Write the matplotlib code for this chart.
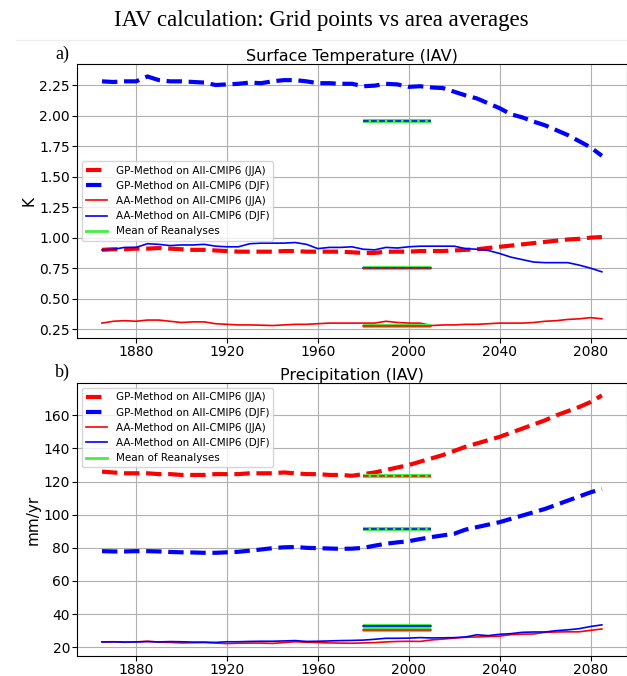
import matplotlib
matplotlib.use("Agg")
import matplotlib.pyplot as plt
from matplotlib.lines import Line2D

# x positions (centre years)
years = [1865, 1870, 1875, 1880, 1885, 1890, 1895, 1900, 1905, 1910,
         1915, 1920, 1925, 1930, 1935, 1940, 1945, 1950, 1955, 1960,
         1965, 1970, 1975, 1980, 1985, 1990, 1995, 2000, 2005, 2010,
         2015, 2020, 2025, 2030, 2035, 2040, 2045, 2050, 2055, 2060,
         2065, 2070, 2075, 2080, 2085]

# a) Surface temperature IAV (K)
tas_gp_jja = [0.90, 0.905, 0.905, 0.91, 0.91, 0.915, 0.91, 0.905, 0.90, 0.90,
              0.895, 0.89, 0.885, 0.885, 0.885, 0.885, 0.89, 0.89, 0.885, 0.885,
              0.885, 0.885, 0.88, 0.875, 0.875, 0.885, 0.885, 0.885, 0.89, 0.89,
              0.89, 0.895, 0.90, 0.905, 0.915, 0.925, 0.935, 0.945, 0.955, 0.965,
              0.975, 0.985, 0.99, 1.00, 1.005]
tas_gp_djf = [2.28, 2.275, 2.28, 2.28, 2.32, 2.29, 2.28, 2.28, 2.275, 2.27,
              2.25, 2.255, 2.26, 2.27, 2.265, 2.28, 2.29, 2.29, 2.28, 2.265,
              2.265, 2.26, 2.26, 2.24, 2.245, 2.26, 2.255, 2.235, 2.24, 2.23,
              2.225, 2.195, 2.165, 2.14, 2.10, 2.06, 2.01, 1.985, 1.95, 1.92,
              1.88, 1.84, 1.79, 1.74, 1.67]
tas_aa_jja = [0.30, 0.315, 0.32, 0.315, 0.325, 0.325, 0.315, 0.305, 0.31, 0.31,
              0.295, 0.29, 0.285, 0.285, 0.283, 0.28, 0.285, 0.29, 0.29, 0.295,
              0.30, 0.30, 0.30, 0.30, 0.30, 0.315, 0.305, 0.30, 0.30, 0.28,
              0.285, 0.285, 0.29, 0.29, 0.295, 0.30, 0.30, 0.30, 0.305, 0.315,
              0.32, 0.33, 0.335, 0.345, 0.335]
tas_aa_djf = [0.90, 0.905, 0.92, 0.92, 0.95, 0.945, 0.935, 0.94, 0.94, 0.945,
              0.93, 0.925, 0.925, 0.95, 0.955, 0.955, 0.955, 0.96, 0.945, 0.91,
              0.92, 0.92, 0.925, 0.905, 0.90, 0.92, 0.915, 0.925, 0.93, 0.93,
              0.93, 0.93, 0.91, 0.905, 0.895, 0.87, 0.84, 0.82, 0.80, 0.795,
              0.795, 0.795, 0.775, 0.75, 0.72]

# b) Precipitation IAV (mm/yr)
pr_gp_jja = [126, 125.5, 125, 125, 125, 124.5, 124.5, 124, 124, 124,
             124.5, 124.5, 124.5, 125, 125, 125, 125.5, 125, 124.5, 124.5,
             124, 124, 123.5, 124.5, 125.5, 127, 128.5, 130, 132, 134,
             136, 138.5, 141, 143, 145, 147, 149.5, 152, 154.5, 157,
             160, 162.5, 165, 168, 172]
pr_gp_djf = [78, 77.8, 77.8, 78, 78, 77.8, 77.5, 77.3, 77.2, 77,
             77, 77.3, 77.6, 78.3, 79, 79.8, 80.3, 80.5, 80, 79.8,
             79.6, 79.4, 79.5, 80, 81.3, 82.5, 83.3, 84, 85.3, 86.5,
             87.5, 88.5, 91, 92.5, 94, 95.5, 97.5, 99.5, 101.5, 103.5,
             106, 108.5, 111, 113.5, 115.5]
pr_aa_jja = [23.1, 23.2, 23.0, 23.2, 23.6, 23.1, 22.9, 22.6, 22.7, 22.8,
             22.5, 22.2, 22.4, 22.5, 22.5, 22.3, 22.8, 23.3, 23.0, 22.8,
             22.6, 22.5, 22.4, 22.6, 22.8, 23.2, 23.5, 23.6, 23.5, 24.4,
             24.9, 25.5, 26.0, 26.2, 26.4, 26.7, 27.6, 27.9, 28.0, 29.0,
             29.2, 29.3, 29.3, 30.2, 31.0]
pr_aa_djf = [23.2, 23.3, 23.1, 23.2, 23.4, 23.2, 23.4, 23.3, 23.1, 23.1,
             22.9, 23.3, 23.3, 23.5, 23.6, 23.6, 23.8, 24.0, 23.5, 23.6,
             23.8, 24.0, 24.1, 24.3, 24.8, 25.4, 25.4, 25.5, 25.8, 25.6,
             25.7, 25.8, 26.2, 27.5, 27.0, 27.8, 28.2, 29.0, 29.2, 29.2,
             30.0, 30.5, 31.2, 32.5, 33.5]

# reanalysis means over 1980-2010
rean_years = [1980, 2010]
tas_rean = {"gp_jja": 0.755, "gp_djf": 1.955, "aa_jja": 0.28, "aa_djf": 0.755}
pr_rean = {"gp_jja": 123.5, "gp_djf": 91.5, "aa_jja": 30.3, "aa_djf": 32.7}

GREEN = "#44ee44"


def draw_panel(ax, gp_jja, gp_djf, aa_jja, aa_djf, rean, title, ylabel, legend_loc):
    ax.plot(years, gp_jja, "--", color="red", lw=3, label="GP-Method on All-CMIP6 (JJA)")
    ax.plot(years, gp_djf, "--", color="blue", lw=3, label="GP-Method on All-CMIP6 (DJF)")
    ax.plot(years, aa_jja, "-", color="red", lw=1.2, label="AA-Method on All-CMIP6 (JJA)")
    ax.plot(years, aa_djf, "-", color="blue", lw=1.2, label="AA-Method on All-CMIP6 (DJF)")

    # reanalysis: green bar with the matching model style on top
    first = True
    for key in ["aa_jja", "aa_djf", "gp_jja", "gp_djf"]:
        ax.plot(rean_years, [rean[key]] * 2, color=GREEN, lw=3, solid_capstyle="butt",
                label="Mean of Reanalyses" if first else None, zorder=3)
        first = False
    ax.plot(rean_years, [rean["aa_jja"]] * 2, "-", color="red", lw=1.1, zorder=4)
    ax.plot(rean_years, [rean["aa_djf"]] * 2, "-", color="blue", lw=1.1, zorder=4)
    ax.plot(rean_years, [rean["gp_jja"]] * 2, "--", color="red", lw=1.1, zorder=5)
    ax.plot(rean_years, [rean["gp_djf"]] * 2, "--", color="blue", lw=1.1, zorder=5)

    ax.set_title(title, fontsize=11.5, pad=2)
    ax.set_ylabel(ylabel, fontsize=11, labelpad=2)
    ax.tick_params(labelsize=10)
    ax.tick_params(axis="x", pad=1.5)
    ax.tick_params(axis="y", pad=1.5)
    ax.set_xticks([1880, 1920, 1960, 2000, 2040, 2080])
    ax.grid(True)

    handles, labels = ax.get_legend_handles_labels()
    handles[-1] = Line2D([], [], color=GREEN, lw=2)
    ax.legend(handles, labels, loc=legend_loc, fontsize=7.5)


fig = plt.figure(figsize=(6.27, 6.76), dpi=100)

ax1 = fig.add_axes([0.1228, 0.5, 0.877, 0.4053])
draw_panel(ax1, tas_gp_jja, tas_gp_djf, tas_aa_jja, tas_aa_djf, tas_rean,
           "Surface Temperature (IAV)", "K", "center left")

ax2 = fig.add_axes([0.1228, 0.0296, 0.877, 0.4038])
draw_panel(ax2, pr_gp_jja, pr_gp_djf, pr_aa_jja, pr_aa_djf, pr_rean,
           "Precipitation (IAV)", "mm/yr", "upper left")

fig.text(0.513, 0.969, "IAV calculation: Grid points vs area averages",
         ha="center", va="center", fontsize=16.5, family="Liberation Serif")
fig.text(0.10, 0.920, "a)", ha="center", va="center", fontsize=13, family="Liberation Serif")
fig.text(0.10, 0.449, "b)", ha="center", va="center", fontsize=13, family="Liberation Serif")
fig.add_artist(Line2D([0.025, 1.0], [0.941, 0.941], color="#eeeeee", lw=1))

fig.savefig("out.png", dpi=100)
